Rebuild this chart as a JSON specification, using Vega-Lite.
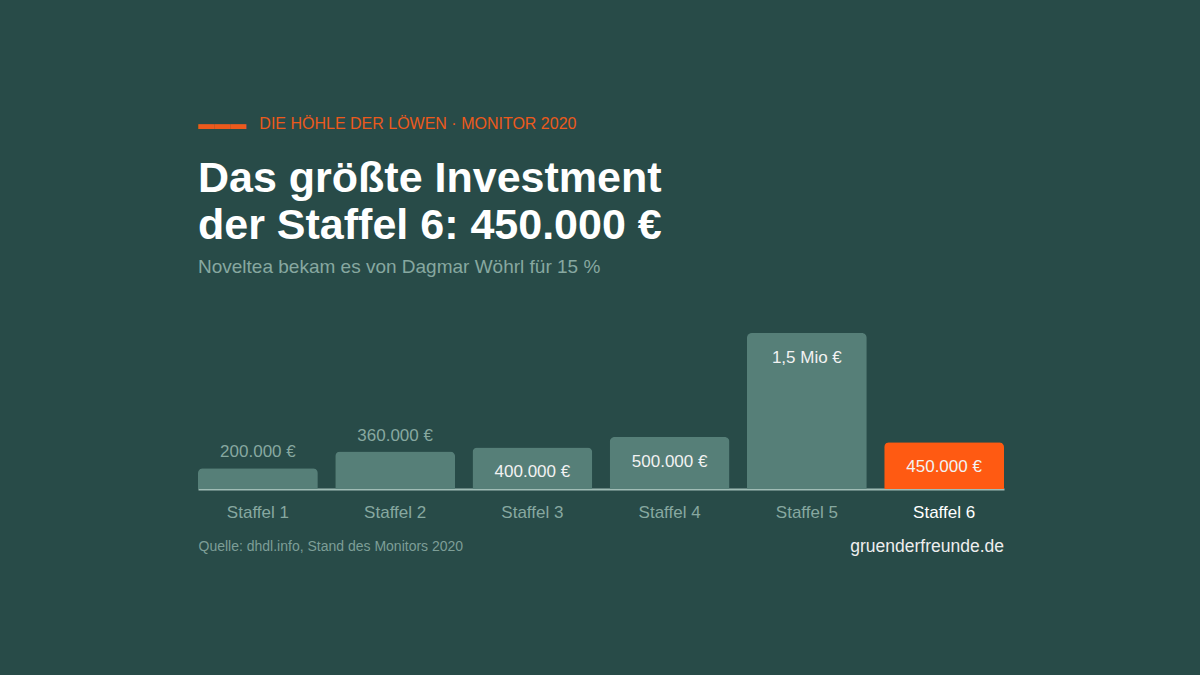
{
  "$schema": "https://vega.github.io/schema/vega-lite/v6.json",
  "background": "#284b48",
  "padding": {"left": 197, "right": 197, "top": 116, "bottom": 140},
  "title": {
    "text": "▬▬▬\u00a0\u00a0\u00a0DIE HÖHLE DER LÖWEN · MONITOR 2020",
    "anchor": "start",
    "frame": "group",
    "color": "#ec5a1c",
    "font": "Liberation Sans",
    "fontSize": 16,
    "fontWeight": "normal",
    "offset": 26
  },
  "vconcat": [
    {
      "title": {
        "text": ["Das größte Investment", "der Staffel 6: 450.000 €"],
        "subtitle": "Noveltea bekam es von Dagmar Wöhrl für 15 %",
        "anchor": "start",
        "frame": "group",
        "color": "#ffffff",
        "font": "Liberation Sans",
        "fontSize": 43,
        "fontWeight": "bold",
        "lineHeight": 47,
        "subtitleColor": "#87a8a0",
        "subtitleFont": "Liberation Sans",
        "subtitleFontSize": 19,
        "subtitlePadding": 10,
        "offset": 56
      },
      "vconcat": [
        {
          "width": 806,
          "height": 156,
          "title": {
            "text": "gruenderfreunde.de",
            "orient": "bottom",
            "anchor": "end",
            "color": "#eeeeee",
            "font": "Liberation Sans",
            "fontSize": 17.5,
            "fontWeight": "normal",
            "offset": -15
          },
          "data": {
            "values": [
              {"staffel": "Staffel 1", "value": 200000, "label": "200.000 €"},
              {"staffel": "Staffel 2", "value": 360000, "label": "360.000 €"},
              {"staffel": "Staffel 3", "value": 400000, "label": "400.000 €"},
              {"staffel": "Staffel 4", "value": 500000, "label": "500.000 €"},
              {"staffel": "Staffel 5", "value": 1500000, "label": "1,5 Mio €"},
              {"staffel": "Staffel 6", "value": 450000, "label": "450.000 €"}
            ]
          },
          "encoding": {
            "x": {
              "field": "staffel",
              "type": "nominal",
              "sort": null,
              "scale": {"paddingInner": 0.127, "paddingOuter": 0},
              "axis": {
                "title": "Quelle: dhdl.info, Stand des Monitors 2020",
                "titleAnchor": "start",
                "titleAlign": "left",
                "titleColor": "#7d9e97",
                "titleFont": "Liberation Sans",
                "titleFontSize": 14,
                "titleFontWeight": "normal",
                "titlePadding": 19,
                "labelAngle": 0,
                "labelFont": "Liberation Sans",
                "labelFontSize": 17,
                "labelPadding": 15,
                "labelColor": {"condition": {"test": "datum.value == 'Staffel 6'", "value": "#ffffff"}, "value": "#87a8a0"},
                "ticks": false,
                "domain": true,
                "domainColor": "#9fbcb5",
                "domainWidth": 2,
                "grid": false
              }
            },
            "y": {
              "field": "value",
              "type": "quantitative",
              "scale": {"domain": [0, 1500000], "nice": false},
              "axis": null
            }
          },
          "layer": [
            {
              "mark": {"type": "bar", "cornerRadiusTopLeft": 5, "cornerRadiusTopRight": 5},
              "encoding": {
                "color": {
                  "condition": {"test": "datum.staffel == 'Staffel 6'", "value": "#ff5a12"},
                  "value": "#567f78"
                }
              }
            },
            {
              "transform": [{"filter": "datum.value < 380000"}],
              "mark": {"type": "text", "baseline": "alphabetic", "dy": -11, "font": "Liberation Sans", "fontSize": 17, "color": "#87a8a0"},
              "encoding": {"text": {"field": "label"}}
            },
            {
              "transform": [{"filter": "datum.value >= 380000"}],
              "mark": {"type": "text", "baseline": "alphabetic", "dy": 30, "font": "Liberation Sans", "fontSize": 17, "color": "#f2f2f2"},
              "encoding": {"text": {"field": "label"}}
            }
          ]
        }
      ]
    }
  ],
  "config": {
    "view": {"stroke": null},
    "concat": {"spacing": 0}
  }
}
